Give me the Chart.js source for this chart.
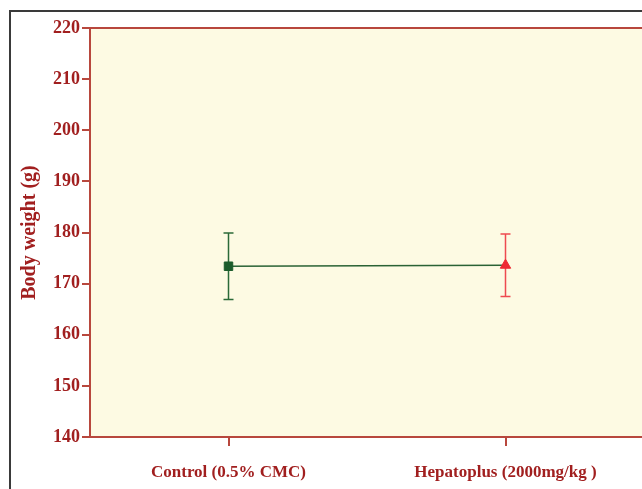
<!DOCTYPE html>
<html>
<head>
<meta charset="utf-8">
<script src="https://cdn.jsdelivr.net/npm/chart.js@4.4.0/dist/chart.umd.min.js"></script>
<style>
  body { margin: 0; background: #fff; overflow: hidden; }
  #frame { position: absolute; left: 9px; top: 10px; width: 700px; height: 600px; border: 2px solid #3a3a3a; }
  #wrap { position: absolute; left: 0; top: 0; width: 651px; height: 489px; }
</style>
</head>
<body>
<div id="frame"></div>
<div id="wrap"><canvas id="bwChart"></canvas></div>
<script>
var groups = ['Control (0.5% CMC)', 'Hepatoplus (2000mg/kg )'];
var meanWeight = [173.4, 173.6];
var errWeight = [6.5, 6.1];
var yTicks = [140, 150, 160, 170, 180, 190, 200, 210, 220];

var darkRed = '#a11f1f';
var frameRed = '#b8473d';
var pointColors = ['#1c5c2c', '#ee2a33'];
var errColors = ['#2b6a38', '#ee4a50'];

// cream plot area + border round it
var plotFrame = {
    id: 'plotFrame',
    beforeDraw: function (chart) {
        var a = chart.chartArea, c = chart.ctx;
        c.save();
        c.fillStyle = '#fdfae3';
        c.fillRect(a.left, a.top, a.right - a.left + 10, a.bottom - a.top);
        c.strokeStyle = frameRed;
        c.lineWidth = 2;
        c.beginPath();
        c.moveTo(a.left, a.bottom);
        c.lineTo(a.left, a.top);
        c.lineTo(a.right + 10, a.top);
        c.stroke();
        c.restore();
    }
};

// vertical error bars with caps
var errorBars = {
    id: 'errorBars',
    beforeDatasetsDraw: function (chart) {
        var c = chart.ctx, xs = chart.scales.x, ys = chart.scales.y;
        c.save();
        c.lineWidth = 1.5;
        meanWeight.forEach(function (m, i) {
            var x = xs.getPixelForValue(i);
            var top = ys.getPixelForValue(m + errWeight[i]);
            var bot = ys.getPixelForValue(m - errWeight[i]);
            c.strokeStyle = errColors[i];
            c.beginPath();
            c.moveTo(x, top); c.lineTo(x, bot);
            c.moveTo(x - 5, top); c.lineTo(x + 5, top);
            c.moveTo(x - 5, bot); c.lineTo(x + 5, bot);
            c.stroke();
        });
        c.restore();
    }
};

var ctx = document.getElementById('bwChart').getContext('2d');
var bwChart = new Chart(ctx, {
    type: 'line',
    data: {
        labels: groups,
        datasets: [{
            data: meanWeight,
            borderColor: '#2a6235',
            borderWidth: 1.5,
            pointStyle: ['rect', 'triangle'],
            pointRadius: [6, 6],
            pointBackgroundColor: pointColors,
            pointBorderColor: pointColors,
            pointBorderWidth: 1
        }]
    },
    options: {
        responsive: true,
        maintainAspectRatio: false,
        animation: false,
        layout: { padding: { top: 28, left: 0, right: 0, bottom: 0 } },
        plugins: { legend: { display: false }, tooltip: { enabled: false } },
        scales: {
            x: {
                offset: true,
                grid: { offset: false, drawOnChartArea: false, drawTicks: true, tickLength: 9, color: frameRed, lineWidth: 2 },
                border: { color: frameRed, width: 2 },
                ticks: {
                    color: darkRed, padding: 16, maxRotation: 0,
                    font: { family: 'Liberation Serif', size: 17, weight: 'bold' }
                },
                afterFit: function (s) { s.height = 52; }
            },
            y: {
                min: 140, max: 220,
                afterBuildTicks: function (s) { s.ticks = yTicks.map(function (v) { return { value: v }; }); },
                grid: { drawOnChartArea: false, drawTicks: true, tickLength: 8, color: frameRed, lineWidth: 2 },
                border: { color: frameRed, width: 2 },
                ticks: {
                    color: darkRed, padding: 2,
                    font: { family: 'Liberation Serif', size: 18, weight: 'bold' }
                },
                title: {
                    display: true, text: 'Body weight (g)', color: darkRed,
                    font: { family: 'Liberation Serif', size: 20, weight: 'bold' },
                    padding: { top: 18, bottom: 0 }
                },
                afterFit: function (s) { s.width = 90; }
            }
        }
    },
    plugins: [plotFrame, errorBars]
});
</script>
</body>
</html>
